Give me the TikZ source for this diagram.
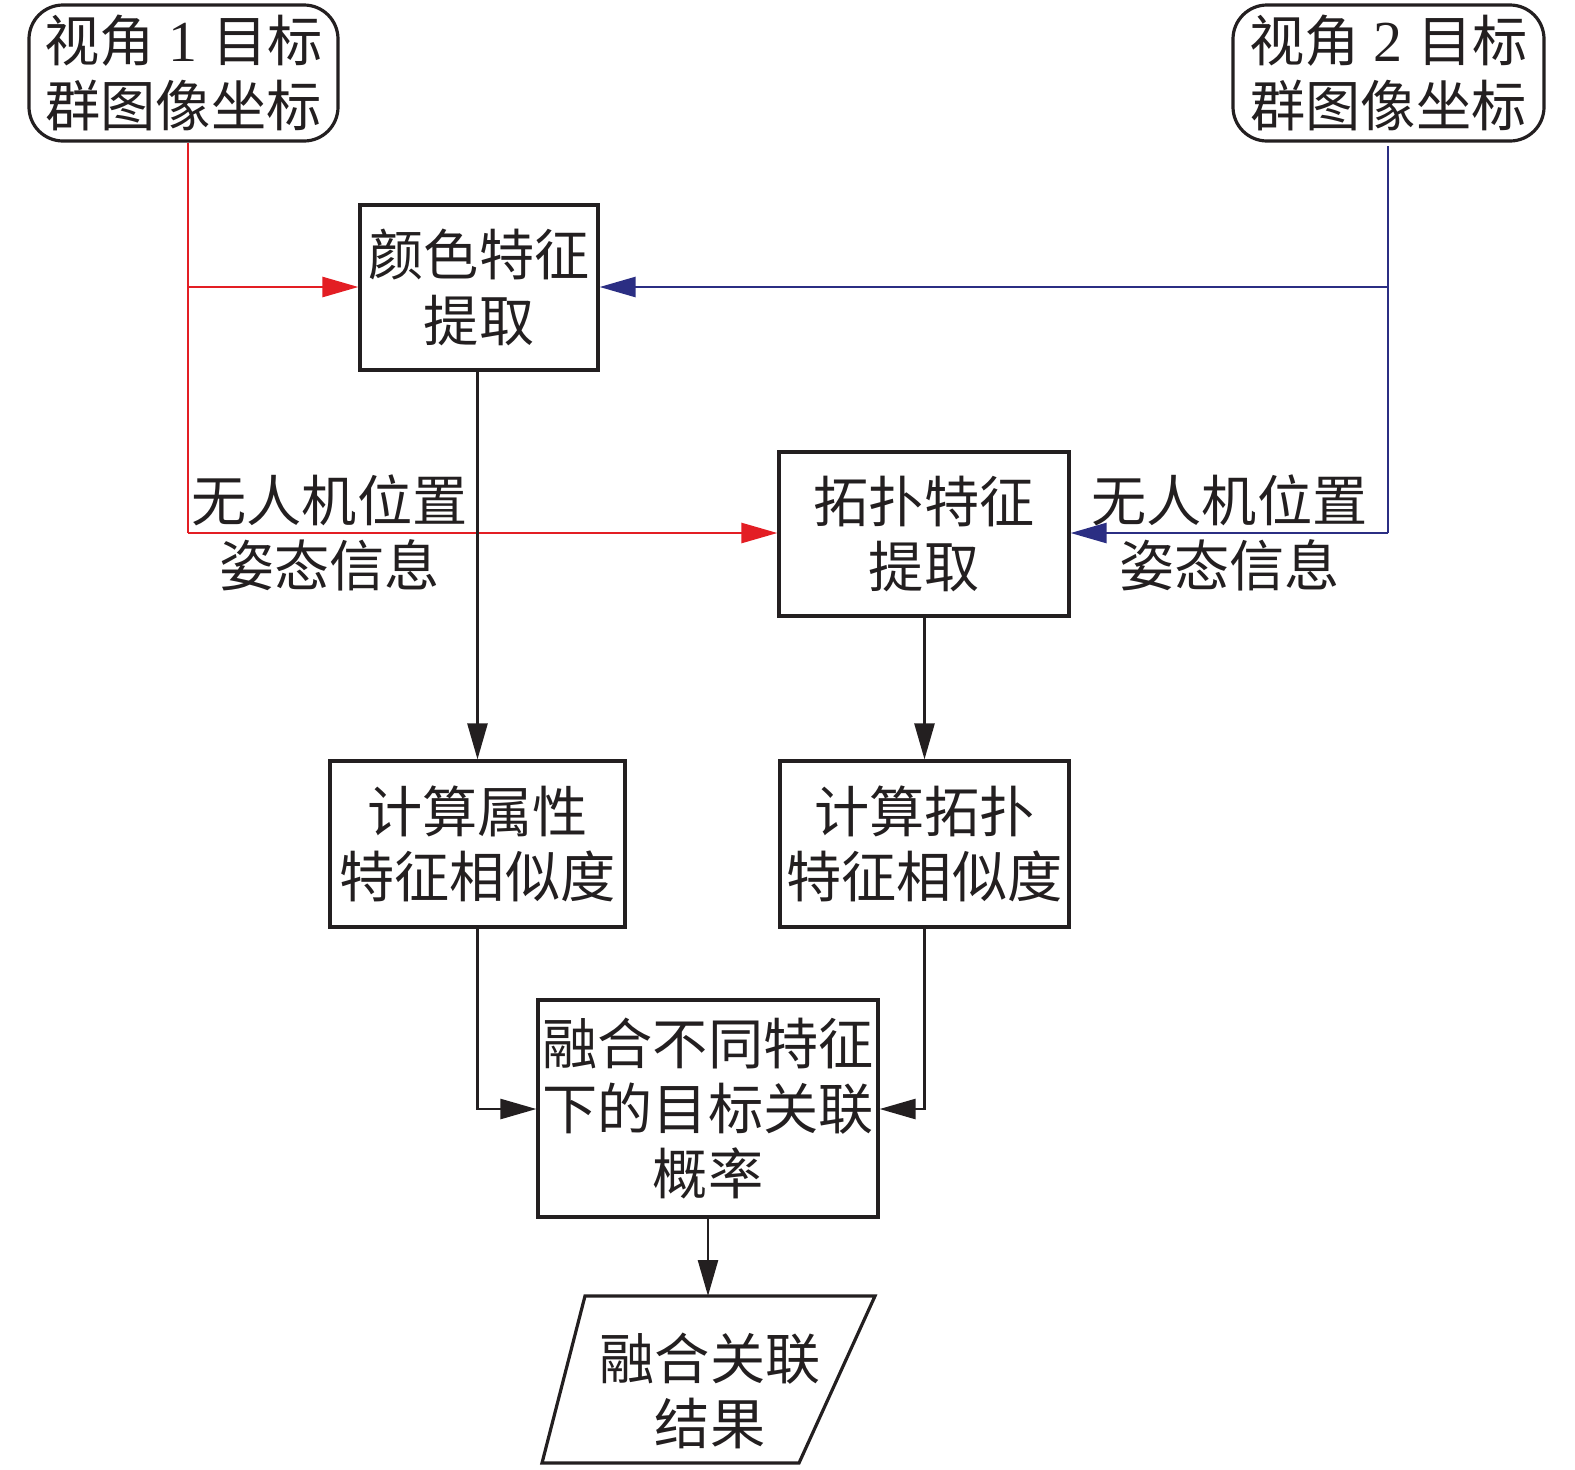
\documentclass[tikz,border=0pt]{standalone}
\usepackage{fontspec}
\setmainfont{Liberation Serif}
\newfontfamily\cjk{Noto Sans CJK SC}
\usetikzlibrary{arrows.meta}
\definecolor{ink}{HTML}{231F20}
\definecolor{lred}{HTML}{E31E24}
\definecolor{lblue}{HTML}{2B2E83}
\begin{document}
\begin{tikzpicture}[x=0.5pt,y=-0.5pt,
  txt/.style={font=\cjk\fontsize{27.6pt}{32.6pt}\selectfont, text=ink, align=center, inner sep=0pt},
  box/.style={txt, draw=ink, line width=1.6pt},
  rbox/.style={box, rounded corners=17pt},
  lbl/.style={txt},
  conn/.style={line width=1.3pt},
  tip/.style={-{Triangle[length=18pt,width=10pt]}},
  redarr/.style={conn, draw=lred, tip, color=lred},
  bluearr/.style={conn, draw=lblue, tip, color=lblue},
  blkarr/.style={conn, draw=ink, tip, color=ink}
]
\useasboundingbox (0,0) rectangle (1575,1469);

% boxes
\node[rbox, minimum width=154.5pt, minimum height=68pt] (A) at (183.5,73) {视角{\rmfamily\ \fontsize{29pt}{32.6pt}\selectfont 1\ }目标\\群图像坐标};
\node[rbox, minimum width=155.5pt, minimum height=68pt] (B) at (1388.5,73) {视角{\rmfamily\ \fontsize{29pt}{32.6pt}\selectfont 2\ }目标\\群图像坐标};
\node[box, minimum width=119pt, minimum height=82.5pt] (C) at (479,287.5) {颜色特征\\提取};
\node[box, minimum width=145pt, minimum height=82pt] (D) at (924,534) {拓扑特征\\提取};
\node[box, minimum width=147.5pt, minimum height=83pt] (E) at (477.5,844) {计算属性\\特征相似度};
\node[box, minimum width=144.5pt, minimum height=83pt] (F) at (924.5,844) {计算拓扑\\特征相似度};
\node[box, minimum width=170pt, minimum height=108.5pt] (G) at (708,1108.5) {融合不同特征\\下的目标关联\\概率};

% parallelogram
\coordinate (h1) at (585,1296);
\coordinate (h2) at (875,1296);
\coordinate (h3) at (799,1463);
\coordinate (h4) at (542,1463);
\draw[draw=ink, line width=1.6pt] (h1) -- (h2) -- (h3) -- (h4) -- cycle;
\node[txt] (H) at (710,1391) {融合关联\\结果};
\coordinate (htop) at (708,1296);

% labels
\node[lbl] (L1) at (329.5,533) {无人机位置\\姿态信息};
\node[lbl] (L2) at (1229.5,533) {无人机位置\\姿态信息};

% red connectors
\coordinate (r0) at (188,141);
\coordinate (r1) at (188,287);
\coordinate (r2) at (188,533);
\draw[conn, draw=lred] (A.south -| r0) -- (r2);
\draw[redarr] (r1) -- (C.west |- r1);
\draw[redarr] (r2) -- (D.west |- r2);

% blue connectors
\coordinate (b0) at (1388,146);
\coordinate (b1) at (1388,287);
\coordinate (b2) at (1388,533);
\draw[conn, draw=lblue] (b0) -- (b2);
\draw[bluearr] (b1) -- (C.east |- b1);
\draw[bluearr] (b2) -- (D.east |- b2);

% black connectors
\draw[blkarr] (C.south -| E.north) -- (E.north);
\draw[blkarr] (D.south -| F.north) -- (F.north);
\coordinate (m1) at (477.5,1109);
\coordinate (m2) at (924.5,1109);
\draw[blkarr] (E.south) -- (m1) -- (G.west |- m1);
\draw[blkarr] (F.south) -- (m2) -- (G.east |- m2);
\draw[blkarr] (G.south -| htop) -- (htop);
\end{tikzpicture}
\end{document}
